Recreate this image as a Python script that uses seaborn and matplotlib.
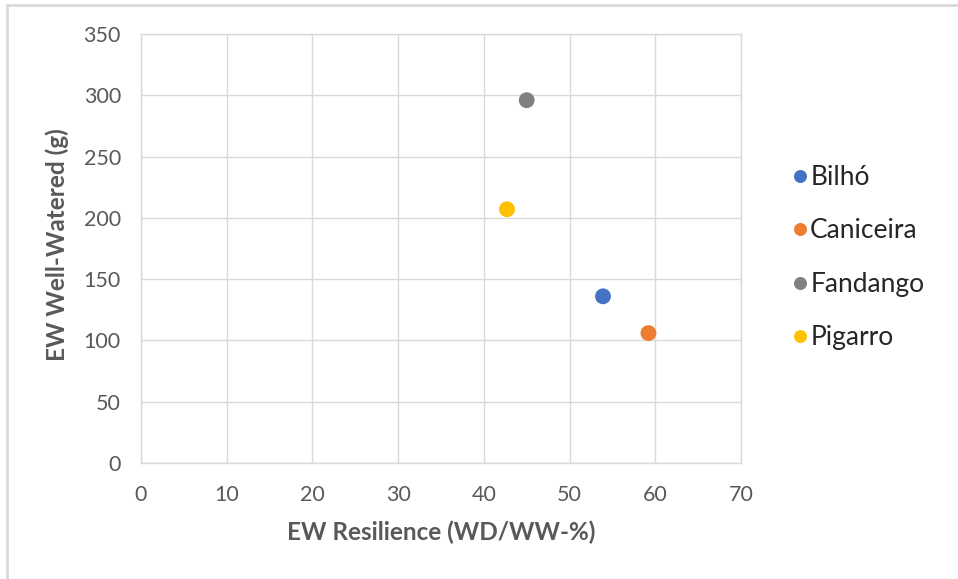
import matplotlib
matplotlib.use("Agg")
import matplotlib.pyplot as plt
from matplotlib.patches import Rectangle
import seaborn as sns
import pandas as pd

# Cultivar data
cultivars = ["Bilhó", "Caniceira", "Fandango", "Pigarro"]
resilience = [53.9, 59.2, 45.0, 42.7]      # EW Resilience (WD/WW-%)
well_watered = [136, 106, 296, 207]         # EW Well-Watered (g)
colors = ["#4472C4", "#ED7D31", "#808080", "#FFC000"]

x_ticks = [0, 10, 20, 30, 40, 50, 60, 70]
y_ticks = [0, 50, 100, 150, 200, 250, 300, 350]

df = pd.DataFrame({"Cultivar": cultivars, "Resilience": resilience, "WellWatered": well_watered})

sns.set_theme(style="white")
plt.rcParams["font.family"] = ["Lato", "DejaVu Sans"]

W, H = 958, 579
fig = plt.figure(figsize=(W / 100, H / 100), dpi=100)
ax = fig.add_axes([141 / W, 1 - 463 / H, 600 / W, 429 / H])

sns.scatterplot(data=df, x="Resilience", y="WellWatered", hue="Cultivar",
                hue_order=cultivars, palette=colors, s=130, edgecolor="none",
                ax=ax, zorder=3, legend=True)

ax.set_xlim(0, 70)
ax.set_ylim(0, 350)
ax.set_xticks(x_ticks)
ax.set_yticks(y_ticks)
ax.grid(True, color="#d9d9d9", linewidth=1.0)
ax.set_axisbelow(True)
for sp in ax.spines.values():
    sp.set_color("#d9d9d9")
    sp.set_linewidth(1.0)

ax.tick_params(axis="both", length=0, labelsize=15.5, labelcolor="#595959")
ax.tick_params(axis="y", pad=14.5)
ax.tick_params(axis="x", pad=16)

ax.set_xlabel("EW Resilience (WD/WW-%)", fontsize=17.5, fontweight="bold", color="#595959")
ax.set_ylabel("EW Well-Watered (g)", fontsize=17.5, fontweight="bold", color="#595959")
ax.xaxis.set_label_coords(0.5, (463 - 521) / 429)
ax.yaxis.set_label_coords((69 - 141) / 600, (463 - 245) / 429)

handles, labels = ax.get_legend_handles_labels()
ax.legend(handles, labels, loc="upper left", bbox_to_anchor=(793 / W, 1 - 165 / H),
          bbox_transform=fig.transFigure, frameon=False, fontsize=19,
          labelcolor="#262626", handletextpad=0.1, labelspacing=1.08,
          markerscale=0.82, borderaxespad=0, borderpad=0, handlelength=0.55)

# Chart area border
fig.patches.append(Rectangle((7 / W, -0.05), 1.1, 1 - 5 / H + 0.05,
                             transform=fig.transFigure, fill=False,
                             edgecolor="#d9d9d9", linewidth=2))

fig.savefig("out.png", dpi=100)
